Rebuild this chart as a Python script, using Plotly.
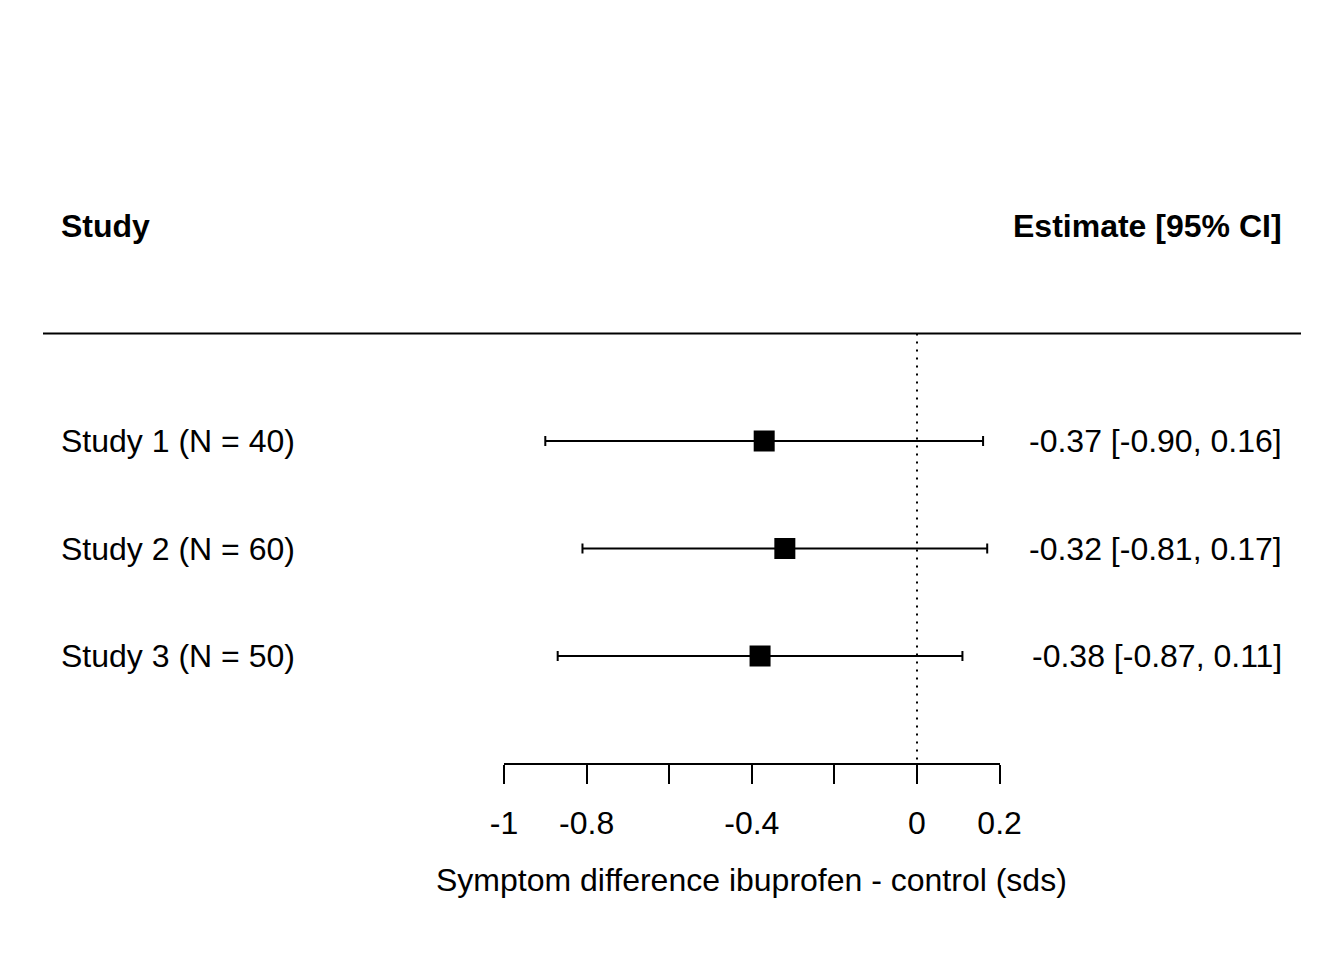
import plotly.graph_objects as go

studies = ["Study 1 (N = 40)", "Study 2 (N = 60)", "Study 3 (N = 50)"]
estimates = [-0.37, -0.32, -0.38]
ci_low = [-0.90, -0.81, -0.87]
ci_high = [0.16, 0.17, 0.11]
rows = [3, 2, 1]
tick_vals = [-1, -0.8, -0.6, -0.4, -0.2, 0, 0.2]
tick_text = ["-1", "-0.8", "", "-0.4", "", "0", "0.2"]
header_left = "Study"
header_right = "Estimate [95% CI]"
x_label = "Symptom difference ibuprofen - control (sds)"

W, H = 1344, 960
PX0, SCALE = 917.0, 413.0          # pixel of x=0, pixels per unit
ROW1_PX, ROW_STEP = 656.0, 107.5   # pixel of row 1, pixels per row


def xd(px):
    return (px - PX0) / SCALE


def yd(py):
    return 1 + (ROW1_PX - py) / ROW_STEP


FONT = "Arial, Liberation Sans, sans-serif"
FS = 32

fig = go.Figure()

err_plus = [h - e for h, e in zip(ci_high, estimates)]
err_minus = [e - l for e, l in zip(estimates, ci_low)]

# dummy trace for the bottom axis
fig.add_trace(go.Scatter(x=[-1, 0.2], y=[0, 0], mode="markers", marker=dict(opacity=0),
                         xaxis="x2", yaxis="y", showlegend=False, hoverinfo="skip"))

fig.add_trace(go.Scatter(
    x=estimates, y=rows, mode="markers",
    marker=dict(symbol="square", size=21, color="black", line=dict(width=0)),
    error_x=dict(type="data", symmetric=False, array=err_plus, arrayminus=err_minus,
                 color="black", thickness=2, width=5),
    showlegend=False, hoverinfo="skip", xaxis="x", yaxis="y", cliponaxis=False,
))

LEFT_X, RIGHT_X = 59, 1284

ann = []
for s, r in zip(studies, rows):
    ann.append(dict(x=xd(LEFT_X), y=r, xref="x", yref="y", text=s, showarrow=False,
                    xanchor="left", yanchor="middle", font=dict(size=FS, family=FONT, color="black")))
for e, l, h, r in zip(estimates, ci_low, ci_high, rows):
    ann.append(dict(x=xd(RIGHT_X), y=r, xref="x", yref="y",
                    text=f"{e:.2f} [{l:.2f}, {h:.2f}]", showarrow=False,
                    xanchor="right", yanchor="middle", font=dict(size=FS, family=FONT, color="black")))
ann.append(dict(x=xd(LEFT_X), y=5, xref="x", yref="y", text=f"<b>{header_left}</b>", showarrow=False,
                xanchor="left", yanchor="middle", font=dict(size=FS, family=FONT, color="black")))
ann.append(dict(x=xd(RIGHT_X), y=5, xref="x", yref="y", text=f"<b>{header_right}</b>", showarrow=False,
                xanchor="right", yanchor="middle", font=dict(size=FS, family=FONT, color="black")))
ann.append(dict(x=-0.4, y=1 - 880 / H, xref="x", yref="paper", text=x_label, showarrow=False,
                xanchor="center", yanchor="middle", font=dict(size=FS, family=FONT, color="black")))

shapes = [
    dict(type="line", xref="x", yref="y", x0=xd(43), x1=xd(1301), y0=4, y1=4,
         line=dict(color="black", width=2)),
    dict(type="line", xref="x", yref="y", x0=0, x1=0, y0=4, y1=yd(764),
         line=dict(color="black", width=2, dash="2px,6px"), layer="below"),
]

fig.update_layout(
    width=W, height=H,
    margin=dict(l=0, r=0, t=0, b=0, pad=0, autoexpand=False),
    paper_bgcolor="white", plot_bgcolor="rgba(0,0,0,0)",
    xaxis=dict(range=[xd(0), xd(W)], domain=[0, 1], visible=False, fixedrange=True,
               automargin=False),
    yaxis=dict(range=[yd(H), yd(0)], domain=[0, 1], visible=False, fixedrange=True,
               automargin=False),
    xaxis2=dict(range=[-1, 0.2], domain=[504 / W, (PX0 + 0.2 * SCALE) / W],
                anchor="free", position=1 - 764 / H, side="bottom", automargin=False,
                showline=True, linecolor="black", linewidth=2,
                ticks="outside", ticklen=19, tickwidth=2, tickcolor="black",
                tickvals=tick_vals, ticktext=tick_text, showgrid=False, zeroline=False,
                ticklabelstandoff=12,
                tickfont=dict(size=FS, family=FONT, color="black"), fixedrange=True),
    annotations=ann, shapes=shapes,
    font=dict(family=FONT, color="black"),
)

fig.write_html("out.html", config={"displayModeBar": False},
               post_script="document.body.style.margin='0';document.body.style.overflow='hidden';")
